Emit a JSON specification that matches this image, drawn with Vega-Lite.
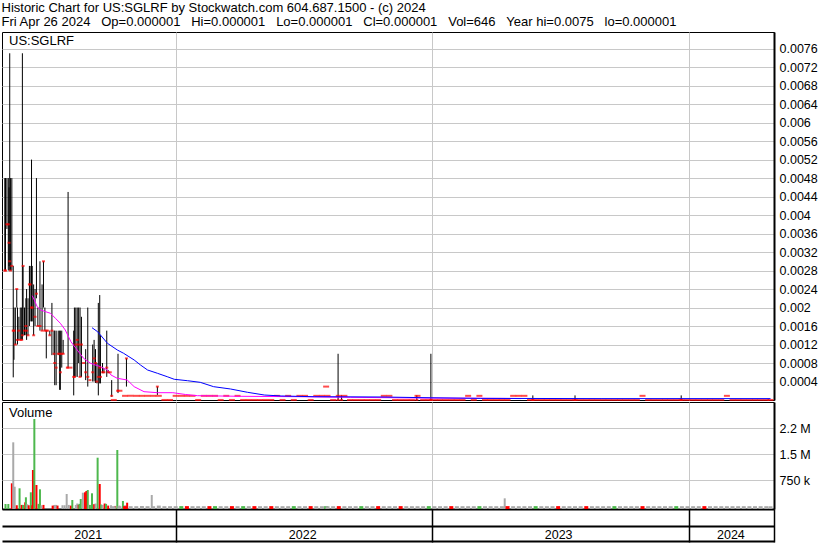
{
  "$schema": "https://vega.github.io/schema/vega-lite/v6.json",
  "padding": {"left": 1, "top": 1, "right": 0, "bottom": 0},
  "background": "white",
  "title": {
    "text": "Historic Chart for US:SGLRF by Stockwatch.com 604.687.1500 - (c) 2024",
    "subtitle": "Fri Apr 26 2024\u00a0\u00a0\u00a0Op=0.000001\u00a0\u00a0\u00a0Hi=0.000001\u00a0\u00a0\u00a0Lo=0.000001\u00a0\u00a0\u00a0Cl=0.000001\u00a0\u00a0\u00a0Vol=646\u00a0\u00a0\u00a0Year hi=0.0075\u00a0\u00a0\u00a0lo=0.000001",
    "anchor": "start",
    "frame": "bounds",
    "font": "Liberation Sans",
    "fontSize": 13,
    "fontWeight": "normal",
    "color": "#000000",
    "subtitleFont": "Liberation Sans",
    "subtitleFontSize": 13,
    "subtitleColor": "#000000",
    "subtitlePadding": 1,
    "offset": 3
  },
  "datasets": {
    "bars": [
      {"d":"2021-05-03","h":0.0048,"l":0.0028,"c":0.0028},
      {"d":"2021-05-04","h":0.0048,"l":0.0028,"c":0.0028},
      {"d":"2021-05-06","h":0.0048,"l":0.0037,"c":0.0038},
      {"d":"2021-05-08","h":0.0048,"l":0.0028,"c":0.0038},
      {"d":"2021-05-09","h":0.0046,"l":0.0029,"c":0.0034},
      {"d":"2021-05-10","h":0.0075,"l":0.0028,"c":0.0030},
      {"d":"2021-05-11","h":0.0048,"l":0.0028,"c":0.0028},
      {"d":"2021-05-13","h":0.0048,"l":0.0028,"c":0.0029},
      {"d":"2021-05-15","h":0.0029,"l":0.00049,"c":0.0015},
      {"d":"2021-05-16","h":0.0020,"l":0.00087,"c":0.0015},
      {"d":"2021-05-18","h":0.0020,"l":0.0012,"c":0.0012},
      {"d":"2021-05-20","h":0.0024,"l":0.0020,"c":0.0024},
      {"d":"2021-05-21","h":0.0020,"l":0.0012,"c":0.0013},
      {"d":"2021-05-23","h":0.0018,"l":0.0013,"c":0.0015},
      {"d":"2021-05-25","h":0.0020,"l":0.0013,"c":0.0013},
      {"d":"2021-05-27","h":0.0020,"l":0.0013,"c":0.0013},
      {"d":"2021-05-28","h":0.0075,"l":0.0013,"c":0.0014},
      {"d":"2021-05-29","h":0.0029,"l":0.0014,"c":0.0029},
      {"d":"2021-05-31","h":0.0020,"l":0.0014,"c":0.0015},
      {"d":"2021-06-02","h":0.0022,"l":0.0014,"c":0.0016},
      {"d":"2021-06-03","h":0.0024,"l":0.0013,"c":0.0015},
      {"d":"2021-06-05","h":0.0022,"l":0.0014,"c":0.0014},
      {"d":"2021-06-07","h":0.0029,"l":0.0016,"c":0.0025},
      {"d":"2021-06-08","h":0.0029,"l":0.0017,"c":0.0025},
      {"d":"2021-06-10","h":0.0052,"l":0.0017,"c":0.0020},
      {"d":"2021-06-11","h":0.0029,"l":0.0017,"c":0.0020},
      {"d":"2021-06-13","h":0.0025,"l":0.0014,"c":0.0014},
      {"d":"2021-06-15","h":0.0024,"l":0.0016,"c":0.0018},
      {"d":"2021-06-17","h":0.0048,"l":0.0022,"c":0.0023},
      {"d":"2021-06-19","h":0.0020,"l":0.0016,"c":0.0016},
      {"d":"2021-06-22","h":0.0030,"l":0.0015,"c":0.0016},
      {"d":"2021-06-25","h":0.0025,"l":0.0015,"c":0.0015},
      {"d":"2021-06-27","h":0.0030,"l":0.0020,"c":0.0030},
      {"d":"2021-06-29","h":0.0020,"l":0.0015,"c":0.0015},
      {"d":"2021-07-01","h":0.0015,"l":0.0009,"c":0.0015},
      {"d":"2021-07-03","h":0.0015,"l":0.0015,"c":0.0015},
      {"d":"2021-07-06","h":0.0015,"l":0.0014,"c":0.0014},
      {"d":"2021-07-09","h":0.0021,"l":0.00097,"c":0.0015},
      {"d":"2021-07-12","h":0.0015,"l":0.00097,"c":0.0010},
      {"d":"2021-07-13","h":0.0015,"l":0.00032,"c":0.0008},
      {"d":"2021-07-15","h":0.0015,"l":0.00032,"c":0.0007},
      {"d":"2021-07-18","h":0.0015,"l":0.00097,"c":0.0010},
      {"d":"2021-07-20","h":0.0015,"l":0.00022,"c":0.0010},
      {"d":"2021-07-21","h":0.0015,"l":0.00022,"c":0.0006},
      {"d":"2021-07-23","h":0.0015,"l":0.0007,"c":0.0010},
      {"d":"2021-07-25","h":0.0013,"l":0.0010,"c":0.0010},
      {"d":"2021-07-31","h":0.0007,"l":0.0007,"c":0.0007},
      {"d":"2021-08-01","h":0.0045,"l":0.0007,"c":0.0007},
      {"d":"2021-08-05","h":0.0007,"l":0.0007,"c":0.0007},
      {"d":"2021-08-09","h":0.0015,"l":0.0001,"c":0.0005},
      {"d":"2021-08-10","h":0.0020,"l":0.0005,"c":0.0005},
      {"d":"2021-08-12","h":0.0020,"l":0.0005,"c":0.0012},
      {"d":"2021-08-14","h":0.0020,"l":0.0005,"c":0.0013},
      {"d":"2021-08-16","h":0.0020,"l":0.0008,"c":0.0012},
      {"d":"2021-08-18","h":0.0020,"l":0.0005,"c":0.0005},
      {"d":"2021-08-20","h":0.0018,"l":0.0005,"c":0.0012},
      {"d":"2021-08-23","h":0.0008,"l":0.0008,"c":0.0008},
      {"d":"2021-08-26","h":0.0011,"l":0.00043,"c":0.0006},
      {"d":"2021-08-29","h":0.0020,"l":0.00029,"c":0.0005},
      {"d":"2021-09-01","h":0.00043,"l":0.00043,"c":0.00043},
      {"d":"2021-09-05","h":0.0012,"l":0.0004,"c":0.0006},
      {"d":"2021-09-07","h":0.0013,"l":0.0004,"c":0.0009},
      {"d":"2021-09-09","h":0.0011,"l":0.00037,"c":0.0008},
      {"d":"2021-09-11","h":0.0008,"l":0.00036,"c":0.0004},
      {"d":"2021-09-13","h":0.0021,"l":0.0001,"c":0.0005},
      {"d":"2021-09-15","h":0.00227,"l":0.00036,"c":0.0007},
      {"d":"2021-09-16","h":0.0014,"l":0.00036,"c":0.0005},
      {"d":"2021-09-19","h":0.0008,"l":0.00058,"c":0.0006},
      {"d":"2021-09-21","h":0.00069,"l":0.00058,"c":0.0006},
      {"d":"2021-09-25","h":0.0015,"l":0.0005,"c":0.0007},
      {"d":"2021-09-27","h":0.00065,"l":0.00058,"c":0.0006},
      {"d":"2021-09-30","h":0.0006,"l":0.0006,"c":0.0006},
      {"d":"2021-10-02","h":0.00043,"l":0.00007,"c":0.00009},
      {"d":"2021-10-11","h":0.0010,"l":0.00015,"c":0.0002},
      {"d":"2021-10-23","h":0.0009,"l":0.00029,"c":0.0009},
      {"d":"2021-12-06","h":0.00029,"l":0.00011,"c":0.00029},
      {"d":"2022-08-20","h":0.0010,"l":0.000001,"c":0.000001},
      {"d":"2022-08-25","h":0.0001,"l":0.000001,"c":0.000001},
      {"d":"2022-12-10","h":0.0001,"l":0.000001,"c":0.000001},
      {"d":"2022-12-30","h":0.0010,"l":0.000001,"c":0.000001},
      {"d":"2023-05-24","h":0.0001,"l":0.000001,"c":0.000001},
      {"d":"2023-07-23","h":0.0001,"l":0.000001,"c":0.000001},
      {"d":"2023-12-21","h":0.0001,"l":0.000001,"c":0.000001}
    ],
    "vol": [
      {"d":"2021-05-04","v":66000,"k":"u"},
      {"d":"2021-05-08","v":66000,"k":"u"},
      {"d":"2021-05-13","v":663000,"k":"d"},
      {"d":"2021-05-15","v":1846000,"k":"n"},
      {"d":"2021-05-17","v":565000,"k":"n"},
      {"d":"2021-05-20","v":30000,"k":"d"},
      {"d":"2021-05-24","v":519000,"k":"u"},
      {"d":"2021-05-27","v":40000,"k":"d"},
      {"d":"2021-05-29","v":40000,"k":"u"},
      {"d":"2021-06-01","v":115000,"k":"d"},
      {"d":"2021-06-02","v":260000,"k":"u"},
      {"d":"2021-06-04","v":60000,"k":"n"},
      {"d":"2021-06-06","v":30000,"k":"d"},
      {"d":"2021-06-09","v":404000,"k":"u"},
      {"d":"2021-06-11","v":30000,"k":"d"},
      {"d":"2021-06-12","v":1047000,"k":"d"},
      {"d":"2021-06-14","v":2518000,"k":"u"},
      {"d":"2021-06-17","v":614000,"k":"d"},
      {"d":"2021-06-20","v":70000,"k":"u"},
      {"d":"2021-06-22","v":490000,"k":"u"},
      {"d":"2021-06-24","v":30000,"k":"n"},
      {"d":"2021-06-27","v":40000,"k":"d"},
      {"d":"2021-07-10","v":20000,"k":"d"},
      {"d":"2021-07-12","v":20000,"k":"d"},
      {"d":"2021-07-13","v":40000,"k":"n"},
      {"d":"2021-07-15","v":40000,"k":"n"},
      {"d":"2021-07-17","v":20000,"k":"d"},
      {"d":"2021-07-24","v":30000,"k":"n"},
      {"d":"2021-07-27","v":30000,"k":"n"},
      {"d":"2021-07-30","v":355000,"k":"n"},
      {"d":"2021-08-02","v":40000,"k":"n"},
      {"d":"2021-08-05","v":20000,"k":"d"},
      {"d":"2021-08-07","v":182000,"k":"u"},
      {"d":"2021-08-12","v":40000,"k":"n"},
      {"d":"2021-08-14","v":80000,"k":"n"},
      {"d":"2021-08-16","v":40000,"k":"d"},
      {"d":"2021-08-17","v":70000,"k":"u"},
      {"d":"2021-08-19","v":210000,"k":"u"},
      {"d":"2021-08-22","v":392000,"k":"n"},
      {"d":"2021-08-25","v":404000,"k":"d"},
      {"d":"2021-08-27","v":441000,"k":"d"},
      {"d":"2021-08-29","v":470000,"k":"u"},
      {"d":"2021-08-31","v":40000,"k":"n"},
      {"d":"2021-09-01","v":40000,"k":"u"},
      {"d":"2021-09-04","v":375000,"k":"u"},
      {"d":"2021-09-07","v":60000,"k":"d"},
      {"d":"2021-09-09","v":80000,"k":"n"},
      {"d":"2021-09-12","v":1402000,"k":"u"},
      {"d":"2021-09-15","v":643000,"k":"d"},
      {"d":"2021-09-17","v":50000,"k":"u"},
      {"d":"2021-09-19","v":40000,"k":"n"},
      {"d":"2021-09-22","v":80000,"k":"d"},
      {"d":"2021-09-24","v":70000,"k":"u"},
      {"d":"2021-09-27","v":20000,"k":"d"},
      {"d":"2021-10-01","v":30000,"k":"n"},
      {"d":"2021-10-07","v":10000,"k":"d"},
      {"d":"2021-10-10","v":1624000,"k":"u"},
      {"d":"2021-10-13","v":20000,"k":"n"},
      {"d":"2021-10-18","v":153000,"k":"u"},
      {"d":"2021-10-21","v":30000,"k":"n"},
      {"d":"2021-10-24","v":104000,"k":"d"},
      {"d":"2021-11-28","v":326000,"k":"n"},
      {"d":"2023-04-14","v":230000,"k":"n"}
    ],
    "flat": [
      {"d":"2021-10-05","c":0.000001,"v":3000,"k":"n"},
      {"d":"2021-10-13","c":0.0002,"v":3000,"k":"n"},
      {"d":"2021-10-21","c":0.00009,"v":5000,"k":"d"},
      {"d":"2021-10-29","c":0.00009,"v":3000,"k":"n"},
      {"d":"2021-11-06","c":0.00009,"v":3000,"k":"n"},
      {"d":"2021-11-14","c":0.00009,"v":8000,"k":"n"},
      {"d":"2021-11-22","c":0.00009,"v":3000,"k":"n"},
      {"d":"2021-11-30","c":0.00009,"v":3000,"k":"n"},
      {"d":"2021-12-08","c":0.00009,"v":20000,"k":"n"},
      {"d":"2021-12-16","c":0.000001,"v":3000,"k":"n"},
      {"d":"2021-12-24","c":0.000001,"v":3000,"k":"n"},
      {"d":"2022-01-01","c":0.00009,"v":3000,"k":"n"},
      {"d":"2022-01-09","c":0.00009,"v":5000,"k":"u"},
      {"d":"2022-01-17","c":0.00009,"v":5000,"k":"d"},
      {"d":"2022-01-25","c":0.00009,"v":3000,"k":"n"},
      {"d":"2022-02-02","c":0.000001,"v":3000,"k":"n"},
      {"d":"2022-02-10","c":0.00009,"v":3000,"k":"n"},
      {"d":"2022-02-18","c":0.00009,"v":5000,"k":"d"},
      {"d":"2022-02-26","c":0.00009,"v":5000,"k":"u"},
      {"d":"2022-03-06","c":0.000001,"v":3000,"k":"n"},
      {"d":"2022-03-14","c":0.00009,"v":3000,"k":"n"},
      {"d":"2022-03-22","c":0.000001,"v":5000,"k":"d"},
      {"d":"2022-03-30","c":0.00009,"v":3000,"k":"n"},
      {"d":"2022-04-07","c":0.000001,"v":5000,"k":"u"},
      {"d":"2022-04-15","c":0.000001,"v":3000,"k":"n"},
      {"d":"2022-04-23","c":0.000001,"v":5000,"k":"d"},
      {"d":"2022-05-01","c":0.000001,"v":3000,"k":"n"},
      {"d":"2022-05-09","c":0.000001,"v":3000,"k":"n"},
      {"d":"2022-05-17","c":0.000001,"v":5000,"k":"d"},
      {"d":"2022-05-25","c":0.00009,"v":3000,"k":"n"},
      {"d":"2022-06-02","c":0.000001,"v":3000,"k":"n"},
      {"d":"2022-06-10","c":0.00009,"v":3000,"k":"n"},
      {"d":"2022-06-18","c":0.000001,"v":5000,"k":"u"},
      {"d":"2022-06-26","c":0.00009,"v":3000,"k":"n"},
      {"d":"2022-07-04","c":0.00009,"v":3000,"k":"n"},
      {"d":"2022-07-12","c":0.000001,"v":5000,"k":"d"},
      {"d":"2022-07-20","c":0.00009,"v":3000,"k":"n"},
      {"d":"2022-07-28","c":0.00009,"v":3000,"k":"n"},
      {"d":"2022-08-03","c":0.00029,"v":5000,"k":"u"},
      {"d":"2022-08-05","c":0.00009,"v":3000,"k":"n"},
      {"d":"2022-08-13","c":0.000001,"v":3000,"k":"n"},
      {"d":"2022-08-21","c":0.00009,"v":5000,"k":"d"},
      {"d":"2022-08-29","c":0.00009,"v":3000,"k":"n"},
      {"d":"2022-09-06","c":0.000001,"v":3000,"k":"n"},
      {"d":"2022-09-14","c":0.000001,"v":3000,"k":"n"},
      {"d":"2022-09-22","c":0.000001,"v":5000,"k":"u"},
      {"d":"2022-09-30","c":0.000001,"v":3000,"k":"n"},
      {"d":"2022-10-08","c":0.000001,"v":3000,"k":"n"},
      {"d":"2022-10-16","c":0.000001,"v":5000,"k":"d"},
      {"d":"2022-10-24","c":0.00009,"v":3000,"k":"n"},
      {"d":"2022-11-01","c":0.00009,"v":3000,"k":"n"},
      {"d":"2022-11-09","c":0.000001,"v":3000,"k":"n"},
      {"d":"2022-11-17","c":0.000001,"v":5000,"k":"d"},
      {"d":"2022-11-25","c":0.000001,"v":3000,"k":"n"},
      {"d":"2022-12-03","c":0.000001,"v":3000,"k":"n"},
      {"d":"2022-12-11","c":0.00009,"v":3000,"k":"n"},
      {"d":"2022-12-19","c":0.000001,"v":3000,"k":"n"},
      {"d":"2022-12-27","c":0.000001,"v":5000,"k":"u"},
      {"d":"2023-01-04","c":0.000001,"v":3000,"k":"n"},
      {"d":"2023-01-12","c":0.000001,"v":3000,"k":"n"},
      {"d":"2023-01-20","c":0.000001,"v":3000,"k":"n"},
      {"d":"2023-01-28","c":0.000001,"v":5000,"k":"d"},
      {"d":"2023-02-05","c":0.000001,"v":3000,"k":"n"},
      {"d":"2023-02-13","c":0.000001,"v":3000,"k":"n"},
      {"d":"2023-02-21","c":0.00009,"v":3000,"k":"n"},
      {"d":"2023-03-01","c":0.000001,"v":3000,"k":"n"},
      {"d":"2023-03-09","c":0.00009,"v":5000,"k":"u"},
      {"d":"2023-03-17","c":0.000001,"v":3000,"k":"n"},
      {"d":"2023-03-25","c":0.000001,"v":3000,"k":"n"},
      {"d":"2023-04-02","c":0.000001,"v":3000,"k":"n"},
      {"d":"2023-04-10","c":0.000001,"v":3000,"k":"n"},
      {"d":"2023-04-18","c":0.000001,"v":5000,"k":"d"},
      {"d":"2023-04-26","c":0.00009,"v":3000,"k":"n"},
      {"d":"2023-05-04","c":0.00009,"v":3000,"k":"n"},
      {"d":"2023-05-12","c":0.00009,"v":3000,"k":"n"},
      {"d":"2023-05-20","c":0.000001,"v":3000,"k":"n"},
      {"d":"2023-05-28","c":0.000001,"v":5000,"k":"u"},
      {"d":"2023-06-05","c":0.000001,"v":3000,"k":"n"},
      {"d":"2023-06-13","c":0.000001,"v":3000,"k":"n"},
      {"d":"2023-06-21","c":0.000001,"v":3000,"k":"n"},
      {"d":"2023-06-29","c":0.000001,"v":5000,"k":"d"},
      {"d":"2023-07-07","c":0.000001,"v":3000,"k":"n"},
      {"d":"2023-07-15","c":0.000001,"v":3000,"k":"n"},
      {"d":"2023-07-23","c":0.000001,"v":3000,"k":"n"},
      {"d":"2023-07-31","c":0.000001,"v":3000,"k":"n"},
      {"d":"2023-08-08","c":0.000001,"v":5000,"k":"d"},
      {"d":"2023-08-16","c":0.000001,"v":3000,"k":"n"},
      {"d":"2023-08-24","c":0.000001,"v":3000,"k":"n"},
      {"d":"2023-09-01","c":0.000001,"v":3000,"k":"n"},
      {"d":"2023-09-09","c":0.000001,"v":3000,"k":"n"},
      {"d":"2023-09-17","c":0.000001,"v":5000,"k":"u"},
      {"d":"2023-09-25","c":0.000001,"v":3000,"k":"n"},
      {"d":"2023-10-03","c":0.000001,"v":3000,"k":"n"},
      {"d":"2023-10-11","c":0.000001,"v":3000,"k":"n"},
      {"d":"2023-10-19","c":0.000001,"v":3000,"k":"n"},
      {"d":"2023-10-27","c":0.00009,"v":5000,"k":"d"},
      {"d":"2023-11-04","c":0.000001,"v":3000,"k":"n"},
      {"d":"2023-11-12","c":0.000001,"v":3000,"k":"n"},
      {"d":"2023-11-20","c":0.000001,"v":3000,"k":"n"},
      {"d":"2023-11-28","c":0.000001,"v":3000,"k":"n"},
      {"d":"2023-12-06","c":0.000001,"v":3000,"k":"n"},
      {"d":"2023-12-14","c":0.000001,"v":5000,"k":"u"},
      {"d":"2023-12-22","c":0.000001,"v":3000,"k":"n"},
      {"d":"2023-12-30","c":0.000001,"v":3000,"k":"n"},
      {"d":"2024-01-07","c":0.000001,"v":3000,"k":"n"},
      {"d":"2024-01-15","c":0.000001,"v":3000,"k":"n"},
      {"d":"2024-01-23","c":0.000001,"v":5000,"k":"d"},
      {"d":"2024-01-31","c":0.000001,"v":3000,"k":"n"},
      {"d":"2024-02-08","c":0.000001,"v":3000,"k":"n"},
      {"d":"2024-02-16","c":0.000001,"v":3000,"k":"n"},
      {"d":"2024-02-24","c":0.00009,"v":3000,"k":"n"},
      {"d":"2024-03-03","c":0.000001,"v":3000,"k":"n"},
      {"d":"2024-03-11","c":0.000001,"v":3000,"k":"n"},
      {"d":"2024-03-19","c":0.000001,"v":3000,"k":"n"},
      {"d":"2024-03-27","c":0.000001,"v":3000,"k":"n"},
      {"d":"2024-04-04","c":0.000001,"v":3000,"k":"n"},
      {"d":"2024-04-12","c":0.000001,"v":3000,"k":"n"},
      {"d":"2024-04-20","c":0.000001,"v":3000,"k":"n"},
      {"d":"2024-04-26","c":0.000001,"v":646,"k":"n"}
    ],
    "ma1": [
      {"d":"2021-06-11","m":0.002256},
      {"d":"2021-06-14","m":0.002163},
      {"d":"2021-06-18","m":0.002018},
      {"d":"2021-06-23","m":0.001947},
      {"d":"2021-06-30","m":0.00191},
      {"d":"2021-07-07","m":0.001875},
      {"d":"2021-07-14","m":0.001767},
      {"d":"2021-07-21","m":0.001659},
      {"d":"2021-07-28","m":0.001514},
      {"d":"2021-08-05","m":0.001261},
      {"d":"2021-08-14","m":0.001082},
      {"d":"2021-08-23","m":0.000902},
      {"d":"2021-09-02","m":0.000794},
      {"d":"2021-09-16","m":0.00072},
      {"d":"2021-09-26","m":0.000649},
      {"d":"2021-10-01","m":0.000541},
      {"d":"2021-10-10","m":0.000469},
      {"d":"2021-10-24","m":0.000433},
      {"d":"2021-11-03","m":0.000288},
      {"d":"2021-11-17","m":0.00018},
      {"d":"2021-12-06","m":0.000158},
      {"d":"2021-12-28","m":0.000158},
      {"d":"2022-01-15","m":0.000119},
      {"d":"2022-02-01","m":0.000093},
      {"d":"2022-04-04","m":0.00008},
      {"d":"2022-06-28","m":0.000071},
      {"d":"2022-09-07","m":0.000058},
      {"d":"2022-12-16","m":0.000043},
      {"d":"2023-04-09","m":0.000035},
      {"d":"2023-05-07","m":0.00003}
    ],
    "ma2": [
      {"d":"2021-09-04","m":0.001564},
      {"d":"2021-09-12","m":0.001477},
      {"d":"2021-09-16","m":0.001406},
      {"d":"2021-09-26","m":0.001226},
      {"d":"2021-10-10","m":0.001082},
      {"d":"2021-10-19","m":0.00101},
      {"d":"2021-11-03","m":0.000865},
      {"d":"2021-11-12","m":0.000757},
      {"d":"2021-11-22","m":0.000649},
      {"d":"2021-12-06","m":0.000578},
      {"d":"2021-12-20","m":0.000504},
      {"d":"2021-12-30","m":0.000448},
      {"d":"2022-01-18","m":0.000417},
      {"d":"2022-02-05","m":0.000382},
      {"d":"2022-02-24","m":0.000288},
      {"d":"2022-03-20","m":0.000238},
      {"d":"2022-04-13","m":0.000167},
      {"d":"2022-05-07","m":0.000108},
      {"d":"2022-05-31","m":0.000087},
      {"d":"2022-07-17","m":0.000071},
      {"d":"2022-10-20","m":0.000065},
      {"d":"2022-12-30","m":0.000048},
      {"d":"2023-03-11","m":0.000035},
      {"d":"2023-08-29","m":0.00003},
      {"d":"2024-04-26","m":0.00003}
    ]
  },
  "vconcat": [
    {
      "width": 772,
      "height": 368,
      "title": {"text": "US:SGLRF", "anchor": "start", "frame": "group", "offset": -16, "dx": 7, "font": "Liberation Sans", "fontSize": 13, "fontWeight": "normal", "color": "#000000"},
      "layer": [
        {
          "data": {"name": "bars"},
          "mark": {"type": "rule", "color": "#000000", "strokeWidth": 1},
          "encoding": {
            "x": {"field": "d", "type": "temporal", "title": null,
              "scale": {"domain": [{"year": 2021, "month": 4, "date": 29}, {"year": 2024, "month": 5, "date": 1}], "padding": 0},
              "axis": {"values": [{"year": 2022, "month": 1, "date": 1}, {"year": 2023, "month": 1, "date": 1}, {"year": 2024, "month": 1, "date": 1}], "grid": true, "labels": false, "ticks": false, "domain": false, "minExtent": 0, "maxExtent": 0}},
            "y": {"field": "h", "type": "quantitative", "title": null,
              "scale": {"domain": [0, 0.00796], "nice": false, "zero": false},
              "axis": {"orient": "right", "values": [0.0004, 0.0008, 0.0012, 0.0016, 0.002, 0.0024, 0.0028, 0.0032, 0.0036, 0.004, 0.0044, 0.0048, 0.0052, 0.0056, 0.006, 0.0064, 0.0068, 0.0072, 0.0076], "tickCount": 25, "format": ".2~g", "labelOverlap": false, "ticks": false, "labelPadding": 5, "domainWidth": 2, "grid": true}},
            "y2": {"field": "l"}
          }
        },
        {
          "data": {"name": "flat"},
          "mark": {"type": "tick", "orient": "horizontal", "size": 6, "thickness": 2, "color": "#ff0000"},
          "encoding": {
            "x": {"field": "d", "type": "temporal", "title": null, "scale": {"domain": [{"year": 2021, "month": 4, "date": 29}, {"year": 2024, "month": 5, "date": 1}], "padding": 0}},
            "y": {"field": "c", "type": "quantitative", "title": null, "scale": {"domain": [0, 0.00796], "nice": false, "zero": false}}
          }
        },
        {
          "data": {"name": "ma1"},
          "mark": {"type": "line", "color": "#ff00ff", "strokeWidth": 1},
          "encoding": {
            "x": {"field": "d", "type": "temporal", "title": null, "scale": {"domain": [{"year": 2021, "month": 4, "date": 29}, {"year": 2024, "month": 5, "date": 1}], "padding": 0}},
            "y": {"field": "m", "type": "quantitative", "title": null, "scale": {"domain": [0, 0.00796], "nice": false, "zero": false}}
          }
        },
        {
          "data": {"name": "ma2"},
          "mark": {"type": "line", "color": "#0000ff", "strokeWidth": 1},
          "encoding": {
            "x": {"field": "d", "type": "temporal", "title": null, "scale": {"domain": [{"year": 2021, "month": 4, "date": 29}, {"year": 2024, "month": 5, "date": 1}], "padding": 0}},
            "y": {"field": "m", "type": "quantitative", "title": null, "scale": {"domain": [0, 0.00796], "nice": false, "zero": false}}
          }
        },
        {
          "data": {"name": "bars"},
          "mark": {"type": "tick", "orient": "horizontal", "size": 3, "thickness": 2, "color": "#ff0000"},
          "encoding": {
            "x": {"field": "d", "type": "temporal", "title": null, "scale": {"domain": [{"year": 2021, "month": 4, "date": 29}, {"year": 2024, "month": 5, "date": 1}], "padding": 0}},
            "y": {"field": "c", "type": "quantitative", "title": null, "scale": {"domain": [0, 0.00796], "nice": false, "zero": false}}
          }
        }
      ]
    },
    {
      "width": 772,
      "height": 107,
      "title": {"text": "Volume", "anchor": "start", "frame": "group", "offset": -18, "dx": 7, "font": "Liberation Sans", "fontSize": 13, "fontWeight": "normal", "color": "#000000"},
      "layer": [
        {
          "data": {"name": "vol"},
          "mark": {"type": "bar", "size": 2},
          "encoding": {
            "x": {"field": "d", "type": "temporal", "title": null,
              "scale": {"domain": [{"year": 2021, "month": 4, "date": 29}, {"year": 2024, "month": 5, "date": 1}], "padding": 0},
              "axis": {"orient": "bottom", "values": [{"year": 2022, "month": 1, "date": 1}, {"year": 2023, "month": 1, "date": 1}, {"year": 2024, "month": 1, "date": 1}, {"year": 2024, "month": 5, "date": 1}], "tickCount": 10, "grid": true, "labels": false, "ticks": true, "tickSize": 33, "tickWidth": 1.5, "domain": true, "domainWidth": 2}},
            "y": {"field": "v", "type": "quantitative", "title": null,
              "scale": {"domain": [-78000, 3009000], "nice": false, "zero": false},
              "axis": {"orient": "right", "values": [750000, 1500000, 2250000], "tickCount": 10, "labelExpr": "datum.value == 750000 ? '750 k' : datum.value == 1500000 ? '1.5 M' : '2.2 M'", "labelOverlap": false, "ticks": false, "labelPadding": 5, "domainWidth": 2, "grid": true}},
            "y2": {"datum": -78000},
            "color": {"field": "k", "type": "nominal", "legend": null, "scale": {"domain": ["u", "d", "n"], "range": ["#4db84d", "#ff0000", "#a9a9a9"]}}
          }
        },
        {
          "data": {"name": "flat"},
          "mark": {"type": "bar", "size": 4},
          "encoding": {
            "x": {"field": "d", "type": "temporal", "title": null,
              "scale": {"domain": [{"year": 2021, "month": 4, "date": 29}, {"year": 2024, "month": 5, "date": 1}], "padding": 0},
              "axis": {"orient": "bottom", "values": [{"year": 2021, "month": 8, "date": 29}, {"year": 2022, "month": 6, "date": 30}, {"year": 2023, "month": 6, "date": 29}, {"year": 2024, "month": 2, "date": 29}], "tickCount": 10, "format": "%Y", "labelOverlap": false, "grid": false, "ticks": false, "domain": true, "domainWidth": 2, "offset": 17, "labelPadding": 2}},
            "y": {"field": "v", "type": "quantitative", "title": null, "axis": null},
            "y2": {"datum": -78000},
            "color": {"field": "k", "type": "nominal", "legend": null}
          }
        },
        {
          "data": {"name": "vol"},
          "mark": {"type": "tick", "opacity": 0},
          "encoding": {
            "x": {"field": "d", "type": "temporal", "title": null,
              "scale": {"domain": [{"year": 2021, "month": 4, "date": 29}, {"year": 2024, "month": 5, "date": 1}], "padding": 0},
              "axis": {"orient": "bottom", "offset": 32, "labels": false, "ticks": false, "grid": false, "domain": true, "domainWidth": 2}},
            "y": {"field": "v", "type": "quantitative", "title": null, "axis": null}
          }
        }
      ],
      "resolve": {"axis": {"x": "independent", "y": "independent"}}
    }
  ],
  "spacing": -2,
  "config": {
    "view": {"stroke": "#000000", "strokeWidth": 1},
    "axis": {
      "labelFont": "Liberation Sans",
      "labelFontSize": 12.5,
      "labelColor": "#000000",
      "gridColor": "#c8c8c8",
      "gridWidth": 1,
      "domainColor": "#000000",
      "tickColor": "#000000"
    }
  }
}
